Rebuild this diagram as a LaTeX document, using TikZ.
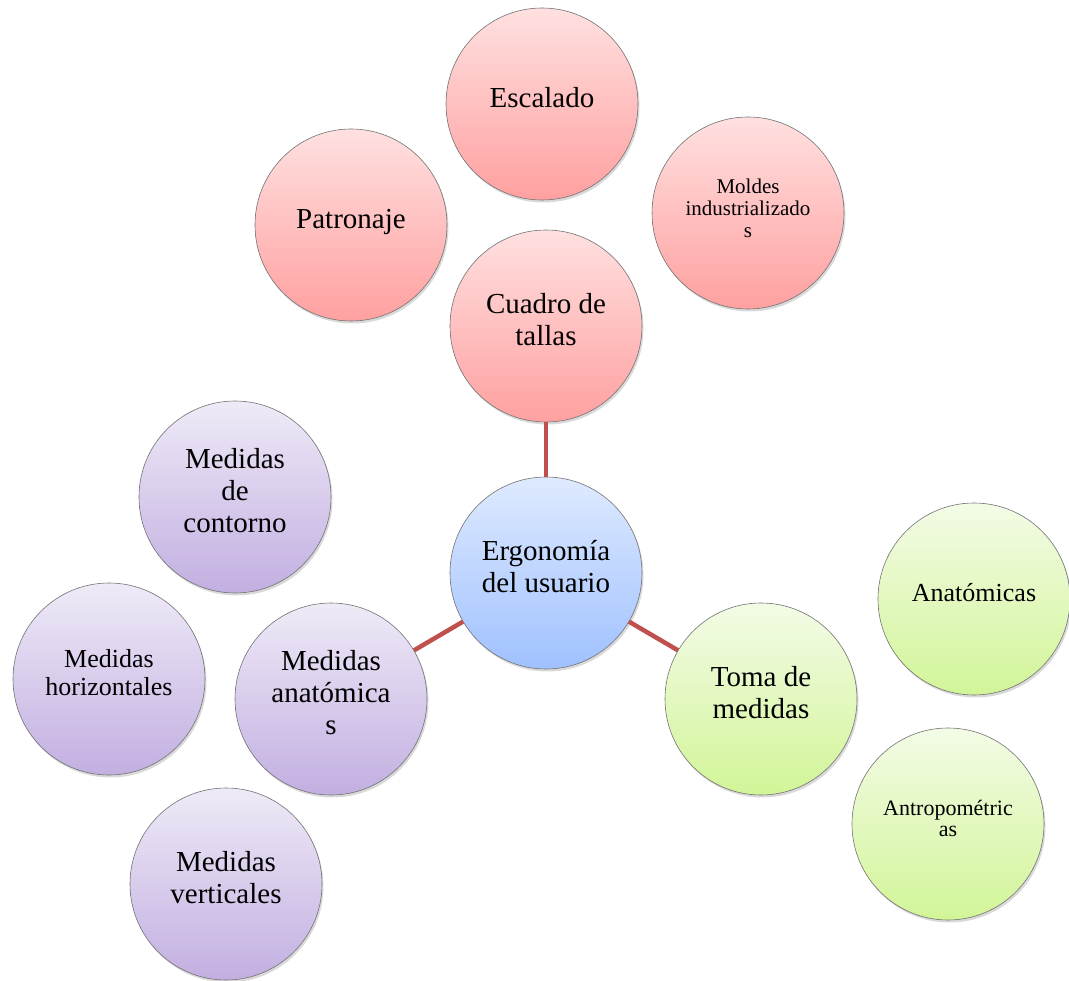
\documentclass[tikz,border=0pt]{standalone}
\usepackage{fontspec}
\setmainfont{Liberation Serif}
\usetikzlibrary{shapes.geometric, shadows}
\definecolor{linkred}{HTML}{C0504D}
% text set a little above the centre of its circle
\newcommand{\bubbletext}[1]{\raisebox{-3pt}[0pt][0pt]{\begin{tabular}{@{}c@{}}#1\end{tabular}}}
\tikzstyle{bubble} = [circle, minimum size=192pt, inner sep=0pt, draw=black!55, line width=0.6pt, drop shadow={shadow xshift=1.5pt, shadow yshift=-2.5pt, opacity=0.3}]
\tikzstyle{redbubble} = [bubble, top color={rgb,255:red,255;green,224;blue,224}, bottom color={rgb,255:red,255;green,160;blue,160}]
\tikzstyle{bluebubble} = [bubble, top color={rgb,255:red,222;green,234;blue,255}, bottom color={rgb,255:red,160;green,193;blue,255}]
\tikzstyle{purplebubble} = [bubble, top color={rgb,255:red,239;green,234;blue,247}, bottom color={rgb,255:red,194;green,175;blue,225}]
\tikzstyle{greenbubble} = [bubble, top color={rgb,255:red,243;green,251;blue,230}, bottom color={rgb,255:red,210;green,245;blue,152}]
\tikzstyle{bigtext} = [font=\fontsize{29}{32}\selectfont]
\tikzstyle{midtext} = [font=\fontsize{26}{28}\selectfont]
\tikzstyle{smalltext} = [font=\fontsize{21}{22}\selectfont]
\tikzstyle{link} = [linkred, line width=4.5pt]
\begin{document}
\begin{tikzpicture}[x=1pt, y=-1pt]
    \useasboundingbox (0,0) rectangle (1069,981);

    % top group
    \node (escalado) [redbubble, bigtext] at (542,104) {\bubbletext{Escalado}};
    \node (patronaje) [redbubble, bigtext] at (351,225) {\bubbletext{Patronaje}};
    \node (moldes) [redbubble, smalltext] at (748,213) {\bubbletext{Moldes\\industrializado\\s}};
    \node (cuadro) [redbubble, bigtext] at (546,326) {\bubbletext{Cuadro de\\tallas}};

    % centre
    \node (ergonomia) [bluebubble, bigtext] at (546,573) {\bubbletext{Ergonomía\\del usuario}};

    % left group
    \node (contorno) [purplebubble, bigtext] at (235,497) {\bubbletext{Medidas\\de\\contorno}};
    \node (horizontales) [purplebubble, midtext] at (109,679) {\bubbletext{Medidas\\horizontales}};
    \node (anatomicas) [purplebubble, bigtext] at (331,699) {\bubbletext{Medidas\\anatómica\\s}};
    \node (verticales) [purplebubble, bigtext] at (226,884) {\bubbletext{Medidas\\verticales}};

    % right group
    \node (toma) [greenbubble, bigtext] at (761,699) {\bubbletext{Toma de\\medidas}};
    \node (anatomicas_r) [greenbubble, midtext] at (974,599) {\bubbletext{Anatómicas}};
    \node (antropometricas) [greenbubble, font=\fontsize{22}{21}\selectfont] at (948,824) {\bubbletext{Antropométric\\as}};

    \draw [link] (ergonomia) -- (cuadro);
    \draw [link] (ergonomia) -- (anatomicas);
    \draw [link] (ergonomia) -- (toma);

\end{tikzpicture}
\end{document}
